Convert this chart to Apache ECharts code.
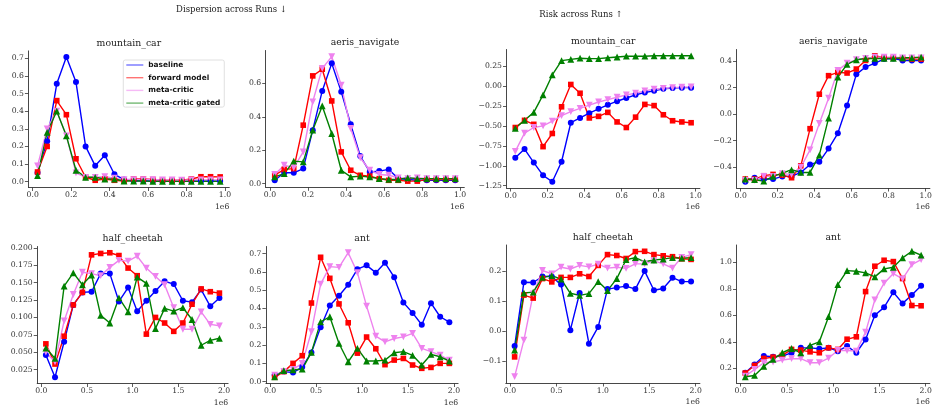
<!DOCTYPE html>
<html>
<head>
<meta charset="utf-8">
<script src="https://cdn.jsdelivr.net/npm/echarts@6/dist/echarts.min.js"></script>
<style>
html,body{margin:0;padding:0;background:#fff;}
#chart{width:938px;height:414px;}
</style>
</head>
<body>
<div id="chart"></div>
<script>
// ---------- data ----------
const seriesNames = ['baseline', 'forward model', 'meta-critic', 'meta-critic gated'];
const panelTitles = ['mountain_car', 'aeris_navigate', 'mountain_car', 'aeris_navigate', 'half_cheetah', 'ant', 'half_cheetah', 'ant'];
const supTitles = ['Dispersion across Runs ↓', 'Risk across Runs ↑'];

const xTop = [0.025,0.075,0.125,0.175,0.225,0.275,0.325,0.375,0.425,0.475,0.525,0.575,0.625,0.675,0.725,0.775,0.825,0.875,0.925,0.975];
const xBottom = [0.05,0.15,0.25,0.35,0.45,0.55,0.65,0.75,0.85,0.95,1.05,1.15,1.25,1.35,1.45,1.55,1.65,1.75,1.85,1.95];

// Dispersion - mountain_car
const dispMcBaseline = [0.05,0.23,0.555,0.707,0.565,0.20,0.09,0.15,0.042,0.012,0.005,0.005,0.004,0.004,0.004,0.004,0.004,0.004,0.004,0.004];
const dispMcForward  = [0.055,0.20,0.46,0.38,0.13,0.025,0.008,0.015,0.008,0.004,0.015,0.015,0.012,0.008,0.008,0.008,0.015,0.028,0.028,0.027];
const dispMcMeta     = [0.09,0.30,0.40,0.26,0.05,0.025,0.025,0.028,0.02,0.012,0.012,0.012,0.012,0.01,0.01,0.008,0.01,0.01,0.01,0.01];
const dispMcGated    = [0.035,0.28,0.40,0.26,0.065,0.025,0.025,0.015,0.015,0.004,0.004,0.004,0.002,0.002,0.002,0.002,0.002,0.002,0.002,0.002];
// Dispersion - aeris_navigate
const dispAerisBaseline = [0.02,0.065,0.065,0.09,0.32,0.555,0.72,0.55,0.355,0.165,0.07,0.075,0.085,0.03,0.025,0.02,0.02,0.02,0.02,0.02];
const dispAerisForward  = [0.05,0.085,0.09,0.35,0.645,0.685,0.495,0.19,0.08,0.05,0.045,0.03,0.02,0.02,0.015,0.015,0.025,0.025,0.025,0.025];
const dispAerisMeta     = [0.055,0.11,0.095,0.19,0.49,0.69,0.76,0.59,0.33,0.155,0.08,0.055,0.05,0.035,0.03,0.035,0.03,0.03,0.03,0.03];
const dispAerisGated    = [0.04,0.06,0.135,0.13,0.32,0.465,0.30,0.08,0.04,0.045,0.04,0.03,0.025,0.025,0.035,0.03,0.03,0.03,0.03,0.03];
// Risk - mountain_car
const riskMcBaseline = [-0.90,-0.79,-0.96,-1.12,-1.20,-0.95,-0.46,-0.40,-0.34,-0.285,-0.235,-0.19,-0.15,-0.11,-0.08,-0.06,-0.035,-0.025,-0.02,-0.02];
const riskMcForward  = [-0.52,-0.43,-0.48,-0.76,-0.595,-0.26,0.02,-0.09,-0.40,-0.38,-0.33,-0.45,-0.52,-0.39,-0.23,-0.245,-0.36,-0.435,-0.45,-0.46];
const riskMcMeta     = [-0.82,-0.59,-0.52,-0.50,-0.44,-0.37,-0.32,-0.28,-0.24,-0.20,-0.17,-0.14,-0.11,-0.09,-0.06,-0.04,-0.03,-0.02,-0.015,-0.01];
const riskMcGated    = [-0.53,-0.43,-0.33,-0.11,0.14,0.32,0.335,0.35,0.345,0.345,0.355,0.365,0.375,0.375,0.375,0.38,0.38,0.38,0.38,0.38];
// Risk - aeris_navigate
const riskAerisBaseline = [-0.51,-0.48,-0.49,-0.49,-0.47,-0.47,-0.44,-0.38,-0.36,-0.26,-0.145,0.065,0.30,0.355,0.385,0.415,0.42,0.405,0.405,0.405];
const riskAerisForward  = [-0.49,-0.49,-0.465,-0.455,-0.46,-0.48,-0.39,-0.11,0.15,0.29,0.315,0.31,0.34,0.405,0.44,0.425,0.425,0.42,0.415,0.415];
const riskAerisMeta     = [-0.50,-0.50,-0.47,-0.47,-0.45,-0.455,-0.40,-0.27,-0.07,0.12,0.33,0.385,0.41,0.42,0.43,0.43,0.43,0.425,0.425,0.425];
const riskAerisGated    = [-0.49,-0.495,-0.505,-0.47,-0.445,-0.42,-0.44,-0.44,-0.31,-0.03,0.28,0.375,0.41,0.42,0.42,0.42,0.42,0.425,0.425,0.43];
// Dispersion - half_cheetah
const dispHcBaseline = [0.046,0.014,0.065,0.118,0.136,0.137,0.163,0.163,0.123,0.143,0.109,0.124,0.138,0.152,0.148,0.124,0.122,0.140,0.116,0.128];
const dispHcForward  = [0.062,0.033,0.073,0.118,0.136,0.190,0.192,0.193,0.189,0.171,0.160,0.076,0.100,0.092,0.080,0.092,0.119,0.141,0.137,0.135];
const dispHcMeta     = [0.050,0.036,0.095,0.133,0.165,0.163,0.160,0.172,0.182,0.181,0.188,0.171,0.159,0.147,0.114,0.083,0.083,0.108,0.090,0.088];
const dispHcGated    = [0.056,0.041,0.145,0.164,0.147,0.161,0.103,0.092,0.128,0.108,0.158,0.149,0.084,0.113,0.109,0.114,0.097,0.060,0.067,0.070];
// Dispersion - ant
const dispAntBaseline = [0.036,0.055,0.050,0.080,0.160,0.297,0.416,0.470,0.530,0.615,0.636,0.596,0.650,0.571,0.433,0.376,0.311,0.429,0.355,0.325];
const dispAntForward  = [0.024,0.055,0.100,0.142,0.430,0.680,0.565,0.425,0.322,0.156,0.244,0.180,0.093,0.118,0.127,0.091,0.073,0.078,0.100,0.100];
const dispAntMeta     = [0.036,0.055,0.067,0.100,0.273,0.533,0.629,0.625,0.705,0.596,0.413,0.249,0.218,0.236,0.245,0.264,0.182,0.164,0.145,0.118];
const dispAntGated    = [0.027,0.060,0.064,0.069,0.160,0.327,0.355,0.209,0.109,0.182,0.113,0.113,0.118,0.158,0.164,0.144,0.091,0.149,0.136,0.113];
// Risk - half_cheetah
const riskHcBaseline = [-0.050,0.163,0.162,0.182,0.182,0.155,0.003,0.127,-0.042,0.014,0.140,0.145,0.150,0.140,0.200,0.136,0.142,0.178,0.165,0.165];
const riskHcForward  = [-0.086,0.120,0.110,0.175,0.164,0.179,0.179,0.191,0.182,0.219,0.255,0.252,0.242,0.265,0.266,0.255,0.251,0.248,0.241,0.239];
const riskHcMeta     = [-0.152,-0.030,0.124,0.202,0.191,0.213,0.207,0.219,0.214,0.223,0.210,0.213,0.209,0.224,0.224,0.234,0.224,0.210,0.246,0.255];
const riskHcGated    = [-0.063,0.127,0.130,0.179,0.185,0.173,0.126,0.119,0.125,0.165,0.135,0.175,0.238,0.245,0.231,0.237,0.240,0.245,0.243,0.245];
// Risk - ant
const riskAntBaseline = [0.167,0.230,0.293,0.288,0.293,0.318,0.355,0.355,0.348,0.355,0.330,0.368,0.318,0.418,0.600,0.660,0.774,0.690,0.754,0.822];
const riskAntForward  = [0.165,0.222,0.275,0.285,0.298,0.343,0.338,0.325,0.318,0.355,0.343,0.420,0.438,0.779,0.970,1.015,1.005,0.877,0.674,0.672];
const riskAntMeta     = [0.142,0.192,0.243,0.248,0.263,0.273,0.273,0.243,0.243,0.278,0.335,0.335,0.330,0.473,0.717,0.842,0.915,0.875,0.982,1.020];
const riskAntGated    = [0.137,0.147,0.215,0.268,0.318,0.350,0.318,0.373,0.400,0.590,0.832,0.937,0.932,0.920,0.890,0.950,0.962,1.033,1.083,1.053];

// tick labels
const xTicksTop = ['0.0','0.2','0.4','0.6','0.8','1.0'];
const xTicksBottom = ['0.0','0.5','1.0','1.5','2.0'];
const yTicksDispMc = ['0.0','0.1','0.2','0.3','0.4','0.5','0.6','0.7'];
const yTicksDispAeris = ['0.0','0.2','0.4','0.6'];
const yTicksRiskMc = ['−1.25','−1.00','−0.75','−0.50','−0.25','0.00','0.25'];
const yTicksRiskAeris = ['−0.4','−0.2','0.0','0.2','0.4'];
const yTicksDispHc = ['0.025','0.050','0.075','0.100','0.125','0.150','0.175','0.200'];
const yTicksDispAnt = ['0.0','0.1','0.2','0.3','0.4','0.5','0.6','0.7'];
const yTicksRiskHc = ['−0.1','0.0','0.1','0.2'];
const yTicksRiskAnt = ['0.2','0.4','0.6','0.8','1.0'];
const offsetText = '1e6';

// ---------- layout (styles / positions) ----------
const colors = ['#0000ff', '#ff0000', '#ee82ee', '#008000'];
const symbols = ['circle', 'rect', 'triangle', 'triangle'];
const symbolRot = [0, 0, 180, 0];
const symbolSizes = [6, 5.6, 6.8, 6.8];

const panels = [
  {grid:{l:28.4,r:229.3,t:50.9,b:187.5}, x:xTop, xTicks:xTicksTop, xlim:[-0.0225,1.0225], ylim:[-0.033,0.742], yTicks:yTicksDispMc, data:[dispMcBaseline,dispMcForward,dispMcMeta,dispMcGated]},
  {grid:{l:265.7,r:464.3,t:50.5,b:187.3}, x:xTop, xTicks:xTicksTop, xlim:[-0.0225,1.0225], ylim:[-0.022,0.797], yTicks:yTicksDispAeris, data:[dispAerisBaseline,dispAerisForward,dispAerisMeta,dispAerisGated]},
  {grid:{l:506.5,r:699.9,t:49.5,b:188}, x:xTop, xTicks:xTicksTop, xlim:[-0.0225,1.0225], ylim:[-1.279,0.459], yTicks:yTicksRiskMc, data:[riskMcBaseline,riskMcForward,riskMcMeta,riskMcGated]},
  {grid:{l:736.5,r:929.9,t:49.5,b:188}, x:xTop, xTicks:xTicksTop, xlim:[-0.0225,1.0225], ylim:[-0.5575,0.4875], yTicks:yTicksRiskAeris, data:[riskAerisBaseline,riskAerisForward,riskAerisMeta,riskAerisGated]},
  {grid:{l:37.2,r:228.1,t:246.5,b:383.5}, x:xBottom, xTicks:xTicksBottom, xlim:[-0.045,2.045], ylim:[0.005,0.202], yTicks:yTicksDispHc, data:[dispHcBaseline,dispHcForward,dispHcMeta,dispHcGated]},
  {grid:{l:265.9,r:458.1,t:246.5,b:383.5}, x:xBottom, xTicks:xTicksBottom, xlim:[-0.045,2.045], ylim:[-0.010,0.739], yTicks:yTicksDispAnt, data:[dispAntBaseline,dispAntForward,dispAntMeta,dispAntGated]},
  {grid:{l:505.8,r:699.9,t:245,b:383}, x:xBottom, xTicks:xTicksBottom, xlim:[-0.045,2.045], ylim:[-0.173,0.287], yTicks:yTicksRiskHc, data:[riskHcBaseline,riskHcForward,riskHcMeta,riskHcGated]},
  {grid:{l:736.5,r:929.9,t:245,b:383}, x:xBottom, xTicks:xTicksBottom, xlim:[-0.045,2.045], ylim:[0.090,1.130], yTicks:yTicksRiskAnt, data:[riskAntBaseline,riskAntForward,riskAntMeta,riskAntGated]}
];

const SERIF = '"DejaVu Serif", serif';
const TXT = '#333';
const toNum = s => parseFloat(s.replace('−', '-'));

function tickAxis(labels, extra) {
  const vals = labels.map(toNum);
  const map = {};
  vals.forEach((v, i) => { map[v.toFixed(6)] = labels[i]; });
  return Object.assign({
    type: 'value',
    splitLine: {show: false},
    axisLine: {show: true, onZero: false, lineStyle: {color: '#333', width: 0.9}},
    axisTick: {show: true, length: 3.5, lineStyle: {color: '#333', width: 0.8}, customValues: vals},
    axisLabel: {
      show: true, customValues: vals, color: TXT, fontFamily: SERIF, fontSize: 7.7,
      formatter: v => map[Number(v).toFixed(6)] !== undefined ? map[Number(v).toFixed(6)] : ''
    }
  }, extra);
}

const grids = [], xAxes = [], yAxes = [], series = [], graphics = [];
panels.forEach((p, i) => {
  const g = p.grid;
  grids.push({left: g.l, top: g.t, width: g.r - g.l, height: g.b - g.t, containLabel: false});
  const xa = tickAxis(p.xTicks, {gridIndex: i, min: p.xlim[0], max: p.xlim[1]});
  xa.axisLabel.margin = 4;
  xAxes.push(xa);
  const ya = tickAxis(p.yTicks, {gridIndex: i, min: p.ylim[0], max: p.ylim[1]});
  ya.axisLabel.margin = 4.5;
  yAxes.push(ya);
  p.data.forEach((vals, k) => {
    series.push({
      type: 'line', name: seriesNames[k], xAxisIndex: i, yAxisIndex: i,
      data: vals.map((v, j) => [p.x[j], v]),
      symbol: symbols[k], symbolRotate: symbolRot[k], symbolSize: symbolSizes[k],
      showSymbol: true, showAllSymbol: true,
      itemStyle: {color: colors[k]},
      lineStyle: {color: colors[k], width: 1.4},
      emphasis: {disabled: true},
      animation: false, clip: false
    });
  });
  graphics.push({
    type: 'text', x: (g.l + g.r) / 2, y: g.t - 7.5,
    style: {text: panelTitles[i], fill: '#222', font: '9.3px ' + SERIF, align: 'center', verticalAlign: 'middle'}
  });
  graphics.push({
    type: 'text', x: g.r, y: g.b + 19.5,
    style: {text: offsetText, fill: TXT, font: '7.7px ' + SERIF, align: 'right', verticalAlign: 'middle'}
  });
});
graphics.push({type: 'text', x: 231.5, y: 10, style: {text: supTitles[0], fill: '#222', font: '8.5px ' + SERIF, align: 'center', verticalAlign: 'middle'}});
graphics.push({type: 'text', x: 581, y: 15, style: {text: supTitles[1], fill: '#222', font: '8.5px ' + SERIF, align: 'center', verticalAlign: 'middle'}});

const chart = echarts.init(document.getElementById('chart'), null, {renderer: 'canvas'});
chart.setOption({
  animation: false,
  backgroundColor: '#fff',
  grid: grids,
  xAxis: xAxes,
  yAxis: yAxes,
  series: series,
  graphic: graphics,
  legend: {
    data: seriesNames,
    orient: 'vertical',
    left: 123.3, top: 60,
    icon: 'rect',
    itemWidth: 17, itemHeight: 1.4,
    itemGap: 4.7,
    itemStyle: {opacity: 0.55},
    padding: [1, 4, 0, 3],
    backgroundColor: 'rgba(255,255,255,0.8)',
    borderColor: '#d8d8d8', borderWidth: 0.8, borderRadius: 2,
    selectedMode: false,
    textStyle: {fontFamily: '"DejaVu Sans", sans-serif', fontWeight: 'bold', fontSize: 7.4, color: '#111', lineHeight: 8},
    z: 10
  }
});
</script>
</body>
</html>
